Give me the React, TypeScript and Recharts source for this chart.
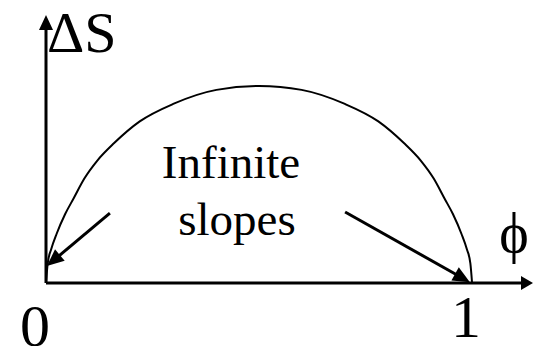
import React from "react";
import { LineChart, Line, XAxis, YAxis, ReferenceLine } from "recharts";

const phiValues = [0, 0.004, 0.012, 0.025, 0.045, 0.065, 0.09, 0.12, 0.16, 0.22, 0.3, 0.4, 0.5, 0.6, 0.7, 0.78, 0.84, 0.88, 0.91, 0.935, 0.955, 0.975, 0.988, 0.996, 1];
const deltaSValues = [0, 0.1, 0.17, 0.25, 0.35, 0.43, 0.53, 0.62, 0.71, 0.82, 0.91, 0.98, 1.0, 0.98, 0.91, 0.82, 0.71, 0.62, 0.53, 0.43, 0.35, 0.25, 0.17, 0.1, 0];
const tickValues = [0, 1];
const tickLabels = ["0", "1"];
const xLabel = "ϕ";
const yLabel = "ΔS";
const noteLines = ["Infinite", "slopes"];

// annotation arrows in data coordinates: [fromPhi, fromS, toPhi, toS]
const slopeArrows = [
  [0.15, 0.355, 0.002, 0.086],
  [0.702, 0.36, 0.995, 0.004],
];

const data = phiValues.map((p, i) => ({ phi: p, dS: deltaSValues[i] }));

const FONT = "Liberation Serif";
const txtStyle = { fontFamily: "'Liberation Serif', Tinos, 'Times New Roman', serif" };

const makeArrow = (headLen: number, headW: number, sw: number) => (props: any) => {
  const { x1, y1, x2, y2 } = props;
  const dx = x2 - x1;
  const dy = y2 - y1;
  const len = Math.sqrt(dx * dx + dy * dy) || 1;
  const ux = dx / len;
  const uy = dy / len;
  const bx = x2 - ux * headLen;
  const by = y2 - uy * headLen;
  const px = -uy * (headW / 2);
  const py = ux * (headW / 2);
  return (
    <g>
      <line x1={x1} y1={y1} x2={x2 - ux * headLen * 0.6} y2={y2 - uy * headLen * 0.6} stroke="#000" strokeWidth={sw} />
      <polygon points={`${x2},${y2} ${bx + px},${by + py} ${bx - px},${by - py}`} fill="#000" />
    </g>
  );
};

const tickOffsets = [
  { dx: -11, y: 346 },
  { dx: -6, y: 337 },
];

const CustomTick = (props: any) => {
  const { x, payload, index } = props;
  const off = tickOffsets[index] || { dx: 0, y: 337 };
  const label = tickLabels[tickValues.indexOf(payload.value)];
  return (
    <text x={x + off.dx} y={off.y} textAnchor="middle" style={txtStyle} fontFamily={FONT} fontSize={60} fill="#000">
      {label}
    </text>
  );
};

export default function App() {
  return (
    <div style={{ position: "absolute", left: 0, top: 0, width: 533, height: 346, background: "#fff" }}>
      <LineChart width={533} height={346} data={data} margin={{ top: 15, right: 0, bottom: 0, left: 46 }}>
        <XAxis
          dataKey="phi"
          type="number"
          domain={[0, 1.143]}
          ticks={tickValues}
          axisLine={false}
          tickLine={false}
          height={63}
          tick={<CustomTick />}
          interval={0}
        />
        <YAxis type="number" domain={[0, 1.36]} hide />
        <Line
          dataKey="dS"
          type="monotone"
          stroke="#000"
          strokeWidth={2}
          dot={false}
          isAnimationActive={false}
        />
        <ReferenceLine
          segment={[{ x: 0, y: 0 }, { x: 1.143, y: 0 }]}
          ifOverflow="visible"
          shape={makeArrow(12, 14, 3)}
        />
        <ReferenceLine
          segment={[{ x: 0, y: 0 }, { x: 0, y: 1.36 }]}
          ifOverflow="visible"
          shape={makeArrow(15, 14, 3)}
        />
        {slopeArrows.map((a, i) => (
          <ReferenceLine
            key={i}
            segment={[{ x: a[0], y: a[1] }, { x: a[2], y: a[3] }]}
            ifOverflow="visible"
            shape={makeArrow(17, 15, 3)}
          />
        ))}
      </LineChart>
      <svg width={533} height={346} style={{ position: "absolute", left: 0, top: 0, pointerEvents: "none" }}>
        <text x={47} y={52} style={txtStyle} fontSize={58} fill="#000">{yLabel}</text>
        <text x={514} y={252} textAnchor="middle" style={txtStyle} fontSize={56} fill="#000">{xLabel}</text>
        <text x={231} y={178} textAnchor="middle" style={txtStyle} fontSize={47} fill="#000">{noteLines[0]}</text>
        <text x={237} y={235} textAnchor="middle" style={txtStyle} fontSize={47} fill="#000">{noteLines[1]}</text>
      </svg>
    </div>
  );
}
